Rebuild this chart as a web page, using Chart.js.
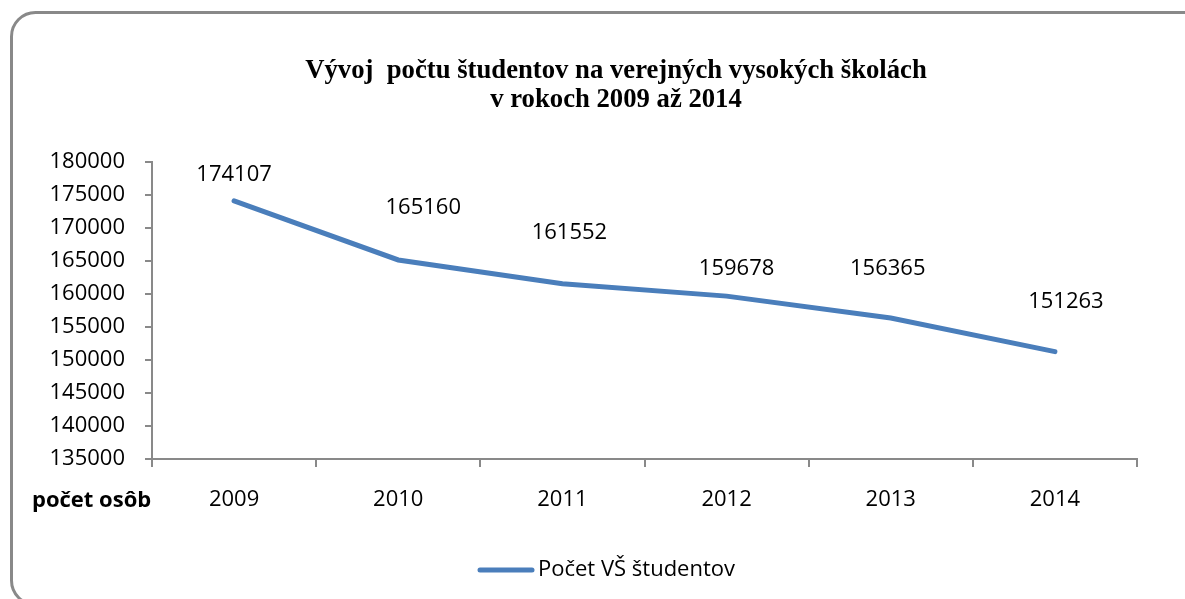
<!DOCTYPE html>
<html>
<head>
<meta charset="utf-8">
<script src="https://cdn.jsdelivr.net/npm/chart.js@4/dist/chart.umd.min.js"></script>
<style>
  html, body { margin: 0; padding: 0; background: #fff; }
</style>
</head>
<body>
<canvas id="graf" width="1185" height="599"></canvas>
<script>
// DATA
const roky = ['2009', '2010', '2011', '2012', '2013', '2014'];
const pocetStudentov = [174107, 165160, 161552, 159678, 156365, 151263];
const nazovRady = 'Počet VŠ študentov';
const nadpis = ['Vývoj  počtu študentov na verejných vysokých školách', 'v rokoch 2009 až 2014'];
const popisOsi = 'počet osôb';
const osYMin = 135000;
const osYMax = 180000;
const osYKrok = 5000;

// FONTY A FARBY
const pismo = '"Open Sans", "DejaVu Sans", sans-serif';
const sivá = '#898989';
const modrá = '#4a7ebb';

// posun popiskov hodnot (ako boli rucne posunute v exceli)
const posunPopiskov = [[0, -26], [25, -52], [7, -51], [10, -27], [-3, -49], [11, -50]];

// ramik okolo grafu, nadpis, popis osi a legenda
const ramik = {
  id: 'ramik',
  beforeDraw(chart) {
    const ctx = chart.ctx;
    ctx.save();
    ctx.fillStyle = '#fff';
    ctx.fillRect(0, 0, chart.width, chart.height);
    ctx.strokeStyle = sivá;
    ctx.lineWidth = 3;
    ctx.beginPath();
    ctx.roundRect(11.5, 12.5, 1185, 592, [24, 4, 4, 24]);
    ctx.stroke();
    ctx.restore();
  },
  afterDraw(chart) {
    const ctx = chart.ctx;
    ctx.save();
    ctx.fillStyle = '#000';
    ctx.textAlign = 'center';
    ctx.textBaseline = 'middle';
    ctx.font = 'bold 26.7px "Liberation Serif", "Times New Roman", serif';
    ctx.fillText(nadpis[0], 616, 71);
    ctx.fillText(nadpis[1], 616, 100);

    ctx.font = 'bold 22px ' + pismo;
    ctx.textAlign = 'left';
    ctx.fillText(popisOsi, 32, 501);

    // legenda
    ctx.strokeStyle = modrá;
    ctx.lineWidth = 5;
    ctx.lineCap = 'round';
    ctx.beginPath();
    ctx.moveTo(480, 570);
    ctx.lineTo(532, 570);
    ctx.stroke();
    ctx.font = '22px ' + pismo;
    ctx.fillText(chart.data.datasets[0].label, 538, 570);
    ctx.restore();
  }
};

// popisky hodnot nad bodmi
const popisky = {
  id: 'popisky',
  afterDatasetsDraw(chart) {
    const ctx = chart.ctx;
    const meta = chart.getDatasetMeta(0);
    ctx.save();
    ctx.fillStyle = '#000';
    ctx.font = '22px ' + pismo;
    ctx.textAlign = 'center';
    ctx.textBaseline = 'middle';
    meta.data.forEach(function (bod, i) {
      const p = posunPopiskov[i];
      ctx.fillText(String(chart.data.datasets[0].data[i]), bod.x + p[0], bod.y + p[1]);
    });
    ctx.restore();
  }
};

let graf = new Chart(document.getElementById('graf'), {
  type: 'line',
  data: {
    labels: roky,
    datasets: [{
      label: nazovRady,
      data: pocetStudentov,
      borderColor: modrá,
      backgroundColor: modrá,
      borderWidth: 5,
      borderCapStyle: 'round',
      pointRadius: 0,
      pointHoverRadius: 0,
      tension: 0,
      fill: false
    }]
  },
  options: {
    responsive: false,
    animation: false,
    layout: { padding: { left: 10, top: 162, right: 48, bottom: 0 } },
    plugins: {
      legend: { display: false },
      title: { display: false },
      tooltip: { enabled: false }
    },
    scales: {
      x: {
        type: 'category',
        offset: true,
        afterFit(scale) { scale.height = 140; },
        grid: {
          offset: true,
          drawOnChartArea: false,
          drawTicks: true,
          tickLength: 8,
          color: sivá,
          lineWidth: 2
        },
        border: { color: sivá, width: 2 },
        ticks: {
          color: '#000',
          font: { family: pismo, size: 22 },
          padding: 20,
          maxRotation: 0
        }
      },
      y: {
        min: osYMin,
        max: osYMax,
        afterFit(scale) { scale.width = 142; },
        grid: {
          drawOnChartArea: false,
          drawTicks: true,
          tickLength: 7,
          color: sivá,
          lineWidth: 2
        },
        border: { color: sivá, width: 2 },
        ticks: {
          stepSize: osYKrok,
          color: '#000',
          font: { family: pismo, size: 22 },
          padding: 20,
          callback: function (v) { return String(v); }
        }
      }
    }
  },
  plugins: [ramik, popisky]
});
</script>
</body>
</html>
